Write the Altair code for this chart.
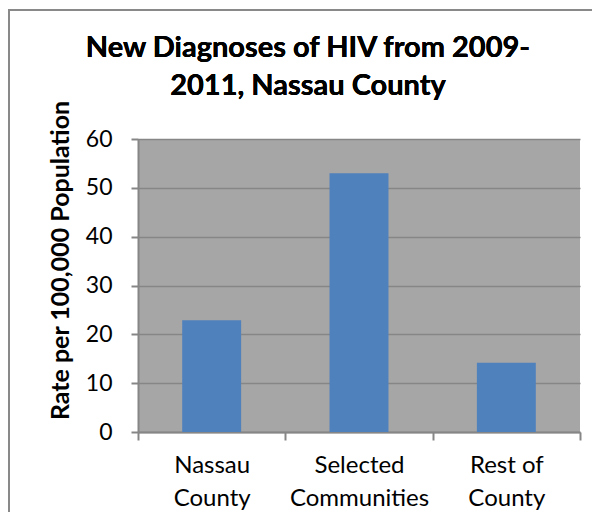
import altair as alt
import pandas as pd

categories = ["Nassau County", "Selected Communities", "Rest of County"]
rates = [22.9, 53.0, 14.2]
y_ticks = [0, 10, 20, 30, 40, 50, 60]

title_lines = ["New Diagnoses of HIV from 2009-", "2011, Nassau County"]
y_title = "Rate per 100,000 Population"

df = pd.DataFrame({"category": categories, "rate": rates})

FONT = "Lato"
GRAY = "#868686"

label_expr = ("datum.label == 'Rest of County' ? ['Rest of', 'County'] : "
              "split(datum.label, ' ')")

bars = alt.Chart(df).mark_bar(
    color="#4f81bd", width=alt.RelativeBandSize(0.4)
).encode(
    x=alt.X("category:N", sort=categories,
            scale=alt.Scale(paddingInner=0, paddingOuter=0),
            axis=alt.Axis(title=None, labelAngle=0, tickBand="extent",
                          tickSize=8, tickColor=GRAY, tickWidth=2,
                          domainColor=GRAY, domainWidth=2,
                          labelExpr=label_expr, labelFont=FONT,
                          labelFontSize=24, labelLineHeight=33,
                          labelPadding=13, labelColor="black",
                          labelBaseline="top")),
    y=alt.Y("rate:Q", scale=alt.Scale(domain=[0, 60], nice=False),
            axis=alt.Axis(title=y_title, values=y_ticks, grid=True,
                          gridColor=GRAY, gridWidth=1.5,
                          tickSize=7, tickColor=GRAY, tickWidth=2,
                          domainColor=GRAY, domainWidth=2,
                          labelFont=FONT, labelFontSize=23,
                          labelPadding=19, labelColor="black",
                          titleFont=FONT, titleFontSize=25,
                          titleFontWeight="bold", titleColor="black",
                          titleX=-78, titleY=121, titleAngle=270,
                          titleAlign="center", titleBaseline="middle")),
)

title = alt.Chart(df).mark_text(
    font=FONT, fontSize=29, fontWeight="bold", color="black",
    align="center", baseline="alphabetic", lineHeight=38
).encode(x=alt.value(170), y=alt.value(-82), text=alt.value(title_lines))

border_v = alt.Chart(df).mark_rule(color="#898989", strokeWidth=2).encode(
    x=alt.value(-129), y=alt.value(-130), y2=alt.value(373))
border_h = alt.Chart(df).mark_rule(color="#898989", strokeWidth=2).encode(
    x=alt.value(-129), x2=alt.value(460), y=alt.value(-129))

chart = alt.layer(bars, title, border_v, border_h).properties(
    width=442, height=293,
    autosize=alt.AutoSizeParams(type="none"),
    padding={"left": 130, "top": 131, "right": 12, "bottom": 80},
).configure_view(fill="#a6a6a6", strokeWidth=0)

chart.save("out.html", embed_options={"renderer": "svg", "actions": False})
